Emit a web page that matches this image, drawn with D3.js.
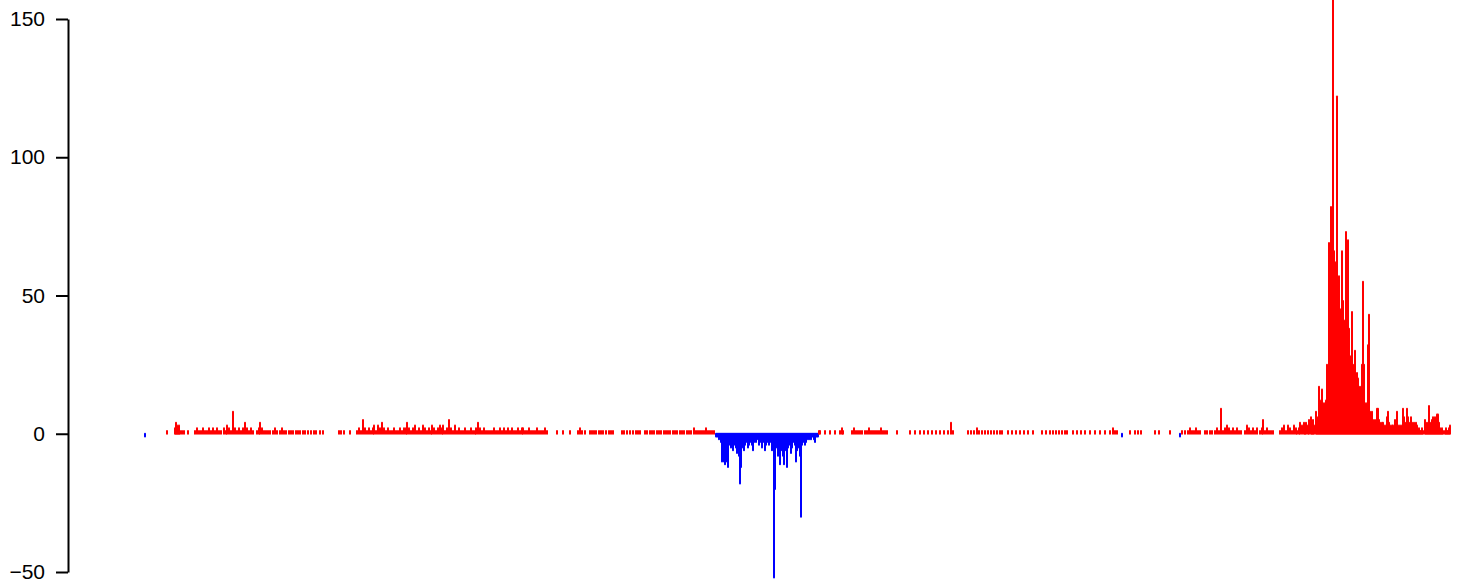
<!DOCTYPE html>
<html>
<head>
<meta charset="utf-8">
<script src="https://cdn.jsdelivr.net/npm/d3@7"></script>
<style>
  html, body { margin: 0; padding: 0; background: #fff; }
  svg { display: block; }
</style>
</head>
<body>
<svg id="chart" width="1465" height="585"></svg>
<script>
// ---- data ----
const yTicks = [-50, 0, 50, 100, 150];
const positionDomain = [145, 1450];

// [position, value] pairs of the profile, left part
const profileLeft = [
[145,-1],[167,1],[175,2],[176,4],[177,3],[178,2],[179,3],[180,1],[182,1],[184,1],[188,1],
[195,1],[197,2],[199,1],[201,1],[203,2],[205,1],[207,1],[209,2],[211,1],[213,2],[215,1],[217,2],[219,1],[221,1],
[224,2],[226,1],[227,3],[229,2],[231,1],[233,8],[235,2],[237,1],[239,2],[241,1],[243,2],[245,4],[247,2],[249,1],[251,2],[253,1],
[257,1],[259,2],[260,4],[262,2],[264,1],[266,1],[268,1],[270,1],
[273,1],[275,2],[277,1],[280,1],[282,2],[284,1],[286,1],
[289,1],[291,1],[293,1],[296,1],[298,1],[300,1],[303,1],[305,1],[308,1],[311,1],[314,1],[316,1],
[320,1],[323,1],[339,1],[341,1],[344,1],[350,1],
[357,1],[359,2],[361,1],[363,5],[365,2],[367,1],[369,2],[371,1],[373,2],[374,3],[376,1],[378,3],[380,2],[382,4],[384,2],[386,1],[388,2],[390,1],[392,1],[394,2],[396,1],[398,1],[400,2],[402,1],[404,2],[406,2],[407,4],[409,2],[411,1],[413,2],[415,3],[417,1],[419,2],[421,1],[423,3],[425,2],[427,1],[429,2],
[431,1],[432,3],[434,2],[436,1],[438,2],[440,3],[442,2],[443,3],[445,1],[447,2],[449,5],[451,2],[453,1],[455,3],[457,1],[459,2],[461,1],[463,1],[465,2],[467,1],[469,1],[471,2],[473,1],[475,1],[476,2],[478,4],[480,2],[482,1],[484,2],[486,1],[488,1],[490,1],[492,1],[494,2],[496,1],[498,1],[500,2],[502,1],[504,2],[506,1],[508,2],[510,1],[512,2],[514,1],[516,1],[518,2],[520,1],[522,2],[523,2],[525,1],[527,1],[529,2],[531,1],[533,1],[535,1],[537,2],[539,1],[541,1],[543,1],[545,2],[547,1],
[557,1],[563,1],[570,1],[578,1],[580,2],[582,1],[585,1],
[590,1],[592,1],[594,1],[596,1],[599,1],[601,1],[603,1],[606,1],[609,1],[611,1],[613,1],
[622,1],[624,1],[627,1],[630,1],[633,1],[636,1],[638,1],[640,1],
[645,1],[647,1],[650,1],[652,1],[654,1],[657,1],[659,1],[661,1],[664,1],[666,1],[668,1],[670,1],[673,1],[675,1],[677,1],[680,1],[682,1],[684,1],[687,1],[689,1],[691,1],[694,2],[696,1],[698,1],[700,1],[702,1],[704,1],[706,2],[708,1],[710,1],[712,1],[714,1]
];

// middle depleted block
const profileMiddle = [
[716,-1],[717,-1],[718,-1],[719,-2],[720,-1],[721,-3],[722,-10],[723,-6],[724,-10],[725,-11],[726,-3],[727,-10],[728,-12],[729,-4],[730,-2],[731,-5],[732,-3],[733,-6],[734,-4],[735,-2],[736,-5],[737,-7],[738,-3],[739,-8],[740,-18],[741,-12],[742,-5],[743,-3],[744,-6],[745,-4],[746,-2],[747,-3],[748,-5],[749,-4],[750,-3],[751,-2],[752,-4],[753,-6],[754,-3],[755,-2],[756,-3],[757,-1],[758,-2],[759,-4],[760,-3],[761,-2],[762,-5],[763,-3],[764,-2],[765,-6],[766,-4],[767,-3],[768,-2],[769,-4],[770,-3],[771,-2],[772,-6],[773,-3],[774,-52],[775,-20],[776,-3],[777,-5],[778,-8],[779,-3],[780,-11],[781,-6],[782,-4],[783,-8],[784,-11],[785,-6],[786,-4],[787,-12],[788,-5],[789,-3],[790,-4],[791,-7],[792,-5],[793,-3],[794,-2],[795,-4],[796,-10],[797,-6],[798,-3],[799,-5],[800,-8],[801,-30],[802,-4],[803,-3],[804,-2],[805,-4],[806,-3],[807,-2],[808,-1],[809,-2],[810,-1],[811,-2],[812,-1],[813,-1],[814,-2],[815,-3],[816,-1],[817,-1],[818,-1]
];

// right part
const profileRight = [
[819,1],[820,1],[825,1],[830,1],[835,1],[840,1],[842,2],[843,1],
[852,1],[854,2],[856,1],[858,1],[860,1],[862,1],[865,1],[867,1],[869,2],[871,1],[873,1],[875,1],[877,1],[879,1],[881,2],[883,1],[885,1],[887,1],
[897,1],[910,1],[915,1],[920,1],[924,1],[928,1],[932,1],[936,1],[940,1],[944,1],[948,1],[951,4],[953,1],
[968,1],[971,1],[974,1],[977,2],[979,1],[982,1],[985,1],[988,1],[991,1],[994,1],[997,1],[1000,1],[1002,1],
[1008,1],[1012,1],[1016,1],[1020,1],[1024,1],[1028,1],[1033,1],
[1042,1],[1046,1],[1050,1],[1053,1],[1056,1],[1059,1],[1062,1],[1065,1],[1067,1],
[1073,1],[1077,1],[1081,1],[1085,1],[1090,1],[1095,1],[1100,1],[1105,1],[1110,1],[1113,2],[1115,1],[1117,1],
[1122,-1],[1130,1],[1135,1],[1138,1],[1141,1],[1155,1],[1159,1],[1170,1],
[1180,-1],[1182,1],[1185,1],[1188,1],[1190,2],[1192,1],[1194,1],[1196,2],[1198,1],[1200,1],[1205,1],[1207,1],[1210,1],[1212,1],[1215,1],[1217,2],[1219,1],[1221,9],[1223,1],[1225,2],[1227,3],[1229,2],[1231,1],[1233,2],[1235,1],[1237,2],[1239,1],[1241,1],[1245,1],[1247,3],[1249,2],[1251,1],[1253,2],[1255,1],[1257,2],[1260,1],[1262,2],[1263,5],[1265,1],[1267,2],[1269,1],[1271,1],[1273,1],
[1280,1],[1282,2],[1284,3],[1286,1],[1288,3],[1290,2],[1292,1],[1294,3],[1296,2],[1297,1],[1299,2],[1300,4],[1302,3],[1304,4],[1305,2],[1306,4],[1308,3],[1309,5],[1311,6],[1312,4],[1313,5],[1314,3],[1316,8],[1317,5],[1318,6],[1319,17],[1320,12],[1321,8],[1322,16],[1323,10],[1324,11],[1325,6],[1326,12],[1327,25],[1328,24],[1329,69],[1330,45],[1331,82],[1332,60],[1333,157],[1334,66],[1335,62],[1336,40],[1337,122],[1338,50],[1339,57],[1340,45],[1341,30],[1342,66],[1343,48],[1344,41],[1345,35],[1346,73],[1347,50],[1348,70],[1349,38],[1350,28],[1351,20],[1352,44],[1353,25],[1354,18],[1355,30],[1356,15],[1357,22],[1358,20],[1359,12],[1360,17],[1361,8],[1362,25],[1363,55],[1364,25],[1365,9],[1366,11],[1367,6],[1368,32],[1369,43],
[1370,8],[1371,6],[1372,8],[1373,5],[1374,4],[1375,5],[1376,4],[1377,9],[1378,9],[1379,5],[1380,4],[1381,3],[1382,4],[1383,4],[1384,3],[1385,2],[1386,3],[1387,6],[1388,8],[1389,4],[1390,3],[1391,2],[1392,3],[1393,3],[1394,2],[1395,5],[1396,4],[1397,8],[1398,3],[1399,2],[1400,3],[1401,2],[1402,3],[1403,9],[1404,6],[1405,4],[1406,3],[1407,9],[1408,6],[1409,4],[1410,3],[1411,6],[1412,4],[1413,3],[1414,4],[1415,3],[1416,4],[1417,3],[1418,1],[1419,2],[1420,1],[1421,1],[1422,2],[1423,1],[1425,5],[1426,3],[1427,4],[1428,3],[1429,10],[1430,4],[1431,3],[1432,5],[1433,6],[1434,4],[1435,6],[1436,5],[1437,7],[1438,7],[1439,4],[1440,2],[1441,1],[1442,2],[1443,1],[1445,1],[1446,2],[1447,1],[1448,1],[1449,2],[1450,3]
];

// ---- drawing ----
const svg = d3.select("#chart");
const x = d3.scaleLinear().domain(positionDomain).range([145, 1450]);
const y = d3.scaleLinear().domain([-50, 150]).range([572, 19]);

const all = profileLeft.concat(profileMiddle, profileRight);

svg.append("g")
  .selectAll("line")
  .data(all)
  .join("line")
  .attr("x1", d => x(d[0]))
  .attr("x2", d => x(d[0]))
  .attr("y1", y(0))
  .attr("y2", d => y(d[1]))
  .attr("stroke", d => d[1] < 0 ? "#0000FF" : "#FF0000")
  .attr("stroke-width", 2)
  .attr("stroke-linecap", "round");

const axis = d3.axisLeft(y)
  .tickValues(yTicks)
  .tickFormat(d => d < 0 ? "\u2212" + Math.abs(d) : String(d))
  .tickSizeInner(12)
  .tickSizeOuter(0)
  .tickPadding(11);

const gAxis = svg.append("g")
  .attr("transform", "translate(68,0)")
  .call(axis);
gAxis.select(".domain").attr("stroke", "#000").attr("stroke-width", 2);
gAxis.selectAll(".tick line").attr("stroke", "#000").attr("stroke-width", 2);
gAxis.selectAll(".tick text")
  .attr("fill", "#000")
  .style("font-family", "'Liberation Sans', Arial, sans-serif")
  .style("font-size", "21px");
</script>
</body>
</html>
